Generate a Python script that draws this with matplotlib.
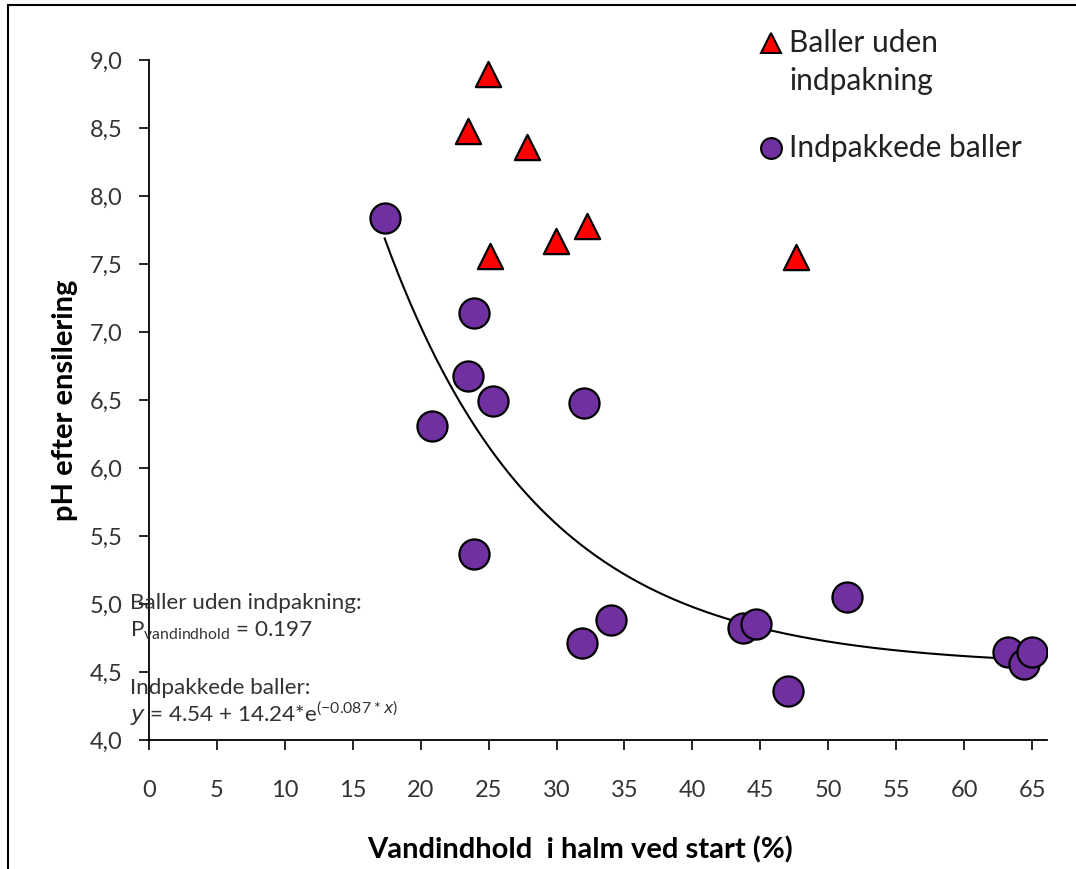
import numpy as np
import matplotlib.pyplot as plt
from matplotlib.lines import Line2D
from matplotlib.patches import Rectangle

plt.rcParams['font.family'] = ['Lato', 'DejaVu Sans']

# Balls without wrapping (red triangles)
open_x = [24.97, 23.5, 27.84, 29.97, 32.24, 25.12, 47.6]
open_ph = [8.90, 8.48, 8.36, 7.67, 7.78, 7.56, 7.55]

# Wrapped balls (purple circles)
wrapped_x = [17.35, 20.8, 23.94, 23.5, 25.34, 23.94, 32.02, 31.88, 34.0,
             43.7, 44.7, 47.0, 51.4, 63.24, 64.4, 65.0]
wrapped_ph = [7.84, 6.31, 7.14, 6.68, 6.49, 5.37, 6.48, 4.71, 4.88,
              4.82, 4.85, 4.36, 5.05, 4.65, 4.56, 4.65]

# exponential fit for the wrapped balls
fit_a, fit_b, fit_k = 4.54, 14.24, -0.087

x_ticks = list(range(0, 70, 5))
y_ticks = [4.0, 4.5, 5.0, 5.5, 6.0, 6.5, 7.0, 7.5, 8.0, 8.5, 9.0]

purple = '#7030A0'
red = '#FF0000'

fig = plt.figure(figsize=(10.76, 8.69), dpi=100)
ax = fig.add_axes([149/1076, 1 - 740/869, (1047 - 149)/1076, (740 - 60)/869])

xs = np.linspace(min(wrapped_x), max(wrapped_x), 300)
ax.plot(xs, fit_a + fit_b*np.exp(fit_k*xs), color='black', lw=1.5, zorder=2)

ax.scatter(wrapped_x, wrapped_ph, s=470, marker='o', facecolor=purple,
           edgecolor='black', linewidth=1.6, zorder=3)
ax.scatter(open_x, open_ph, s=330, marker='^', facecolor=red,
           edgecolor='black', linewidth=1.6, zorder=3)

ax.set_xlim(0, 66.1)
ax.set_ylim(4.0, 9.0)
ax.set_xticks(x_ticks)
ax.set_yticks(y_ticks)
ax.set_yticklabels([f'{v:.1f}'.replace('.', ',') for v in y_ticks])
ax.tick_params(axis='both', direction='out', length=7, width=1.2,
               labelsize=17, colors='black', labelcolor='#333333')
ax.tick_params(axis='x', pad=22)
ax.tick_params(axis='y', pad=12)
for side in ['top', 'right']:
    ax.spines[side].set_visible(False)
for side in ['left', 'bottom']:
    ax.spines[side].set_linewidth(1.3)

fig.text(65/1076, 1 - 400/869, 'pH efter ensilering', rotation=90,
         ha='center', va='center', fontsize=21, fontweight='bold')
fig.text(580/1076, 1 - 850/869, 'Vandindhold  i halm ved start (%)',
         ha='center', va='center', fontsize=21, fontweight='bold')

# statistics text in the lower left corner
txt = dict(fontsize=16.2, color='#333333', ha='left', va='center')
fig.text(130/1076, 1 - 603/869, 'Baller uden indpakning:', **txt)
fig.text(130/1076, 1 - 631/869, r'P$_{\mathregular{vandindhold}}$ = 0.197', **txt)
fig.text(130/1076, 1 - 688/869, 'Indpakkede baller:', **txt)
fig.text(130/1076, 1 - 714/869,
         r'$\it{y}$ = 4.54 + 14.24*e$^{\mathregular{(-0.087*}\it{x}\mathregular{)}}$',
         **txt)

# legend
fig.add_artist(Line2D([771/1076], [1 - 43/869], marker='^', markersize=15,
                      markerfacecolor=red, markeredgecolor='black', mew=1.5,
                      transform=fig.transFigure))
fig.add_artist(Line2D([771/1076], [1 - 148/869], marker='o', markersize=15,
                      markerfacecolor=purple, markeredgecolor='black', mew=1.5,
                      transform=fig.transFigure))
leg = dict(fontsize=21.5, color='#222222', ha='left', va='center')
fig.text(789/1076, 1 - 43/869, 'Baller uden', **leg)
fig.text(789/1076, 1 - 81/869, 'indpakning', **leg)
fig.text(789/1076, 1 - 148/869, 'Indpakkede baller', **leg)

# outer frame
fig.add_artist(Rectangle((8/1076, -0.01), 1.2, 1 - 5/869 + 0.01,
                         transform=fig.transFigure, fill=False,
                         edgecolor='black', lw=1.5))

fig.savefig('out.png', dpi=100)
